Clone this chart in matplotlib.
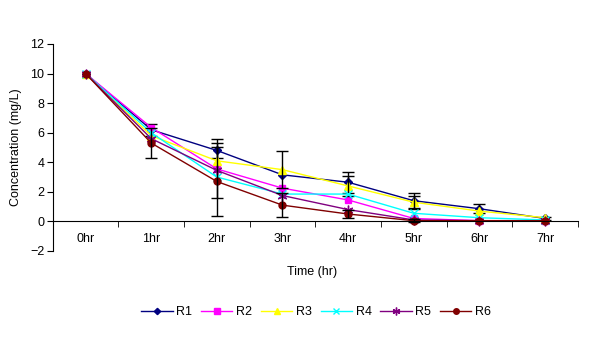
import matplotlib
matplotlib.use("Agg")
import matplotlib.pyplot as plt

plt.rcParams['font.family'] = ['Liberation Sans', 'DejaVu Sans']

# data
hours = ["0hr", "1hr", "2hr", "3hr", "4hr", "5hr", "6hr", "7hr"]
series_names = ["R1", "R2", "R3", "R4", "R5", "R6"]

r1 = [10.0, 6.2, 4.8, 3.15, 2.65, 1.4, 0.86, 0.2]
r2 = [10.0, 6.35, 3.55, 2.25, 1.45, 0.2, 0.05, 0.05]
r3 = [10.0, 5.8, 4.1, 3.5, 2.4, 1.3, 0.7, 0.25]
r4 = [10.0, 6.0, 3.0, 1.85, 1.85, 0.55, 0.25, 0.1]
r5 = [10.0, 5.6, 3.45, 1.75, 0.8, 0.1, 0.05, 0.05]
r6 = [10.0, 5.3, 2.7, 1.1, 0.5, 0.05, 0.05, 0.05]

# error bar half-widths (0 = none shown)
e1 = [0.0, 0.4, 0.5, 0.0, 0.7, 0.5, 0.3, 0.1]
e2 = [0.0, 0.0, 2.0, 0.0, 0.0, 0.0, 0.0, 0.0]
e3 = [0.0, 0.0, 0.0, 1.25, 0.7, 0.45, 0.0, 0.0]
e4 = [0.0, 0.0, 0.0, 0.0, 0.0, 0.0, 0.0, 0.0]
e5 = [0.0, 0.0, 0.0, 0.0, 0.0, 0.0, 0.0, 0.0]
e6 = [0.0, 1.0, 2.3, 0.8, 0.3, 0.1, 0.0, 0.0]

values = [r1, r2, r3, r4, r5, r6]
errors = [e1, e2, e3, e4, e5, e6]
colors = ["#000080", "#FF00FF", "#FFFF00", "#00FFFF", "#800080", "#800000"]
markers = ["D", "s", "^", "x", (6, 2, 0), "o"]
msizes = [4, 5, 6, 6, 7, 5]

fig = plt.figure(figsize=(6, 3.45), dpi=100)
ax = fig.add_axes([0.088, 0.2725, 0.875, 0.6])

x = list(range(len(hours)))
for vals, errs, c, m, ms, name in zip(values, errors, colors, markers, msizes, series_names):
    ax.plot(x, vals, color=c, lw=1, marker=m, ms=ms, mec=c, mfc=c, label=name)
    xe = [xi for xi, e in zip(x, errs) if e > 0]
    ye = [v for v, e in zip(vals, errs) if e > 0]
    ee = [e for e in errs if e > 0]
    if xe:
        ax.errorbar(xe, ye, yerr=ee, fmt="none", ecolor="black", elinewidth=1, capsize=4, capthick=1)

ax.set_xlim(-0.5, 7.5)
ax.set_ylim(-2, 12)
ax.set_yticks(range(-2, 13, 2))
ax.spines['top'].set_visible(False)
ax.spines['right'].set_visible(False)
ax.spines['bottom'].set_position(('data', 0))
ax.set_xticks(x)
ax.set_xticklabels(hours, fontsize=9)
ax.tick_params(axis='x', which='major', length=0, pad=8)
ax.set_xticks([i - 0.5 for i in range(len(hours) + 1)], minor=True)
ax.tick_params(axis='x', which='minor', length=4, direction='out')
ax.tick_params(axis='y', length=4, direction='out', labelsize=9, pad=2)
ax.set_ylabel("Concentration (mg/L)", fontsize=9, labelpad=6)

fig.text(0.52, 0.212, "Time (hr)", ha="center", va="center", fontsize=9)
fig.legend(loc="center", bbox_to_anchor=(0.527, 0.096), ncol=6, frameon=False,
           fontsize=9, handlelength=2.5, columnspacing=0.7, handletextpad=0.3,
           markerscale=0.8, borderpad=0.2)

fig.savefig("out.png", dpi=100)
